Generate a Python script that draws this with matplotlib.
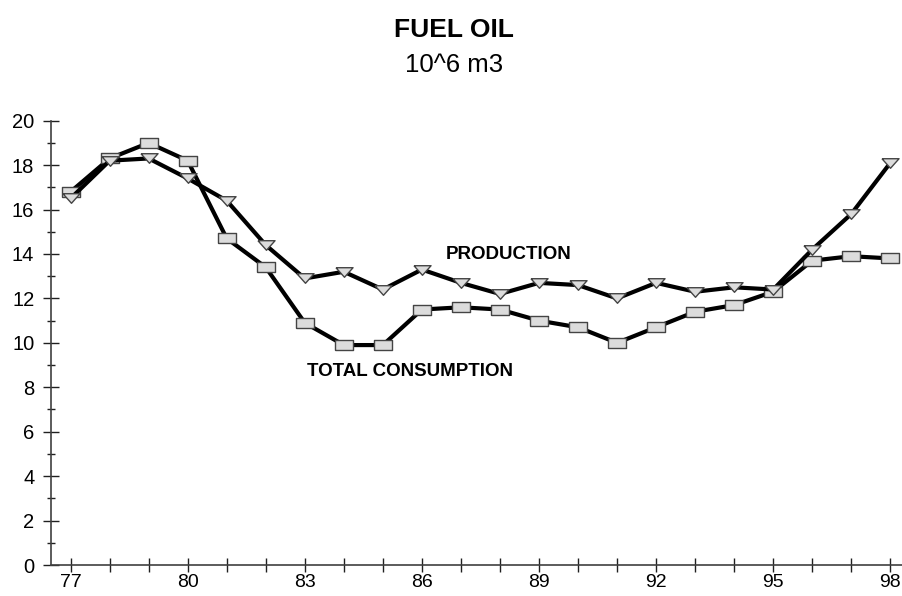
import matplotlib
matplotlib.use("Agg")
import matplotlib.pyplot as plt
from matplotlib.ticker import MultipleLocator

plt.rcParams["font.family"] = ["Liberation Sans", "DejaVu Sans"]

# years 1977..1998, values in 10^6 m3
years = list(range(77, 99))
consumption = [16.8, 18.3, 19.0, 18.2, 14.7, 13.4, 10.9, 9.9, 9.9, 11.5, 11.6,
               11.5, 11.0, 10.7, 10.0, 10.7, 11.4, 11.7, 12.3, 13.7, 13.9, 13.8]
production = [16.5, 18.2, 18.3, 17.4, 16.4, 14.4, 12.9, 13.2, 12.4, 13.3, 12.7,
              12.2, 12.7, 12.6, 12.0, 12.7, 12.3, 12.5, 12.4, 14.2, 15.8, 18.1]
xtick_years = [77, 80, 83, 86, 89, 92, 95, 98]

# flat marker shapes like the original
rect = [(-1, -0.55), (1, -0.55), (1, 0.55), (-1, 0.55), (-1, -0.55)]
tri = [(-1, 0.56), (1, 0.56), (0, -0.56), (-1, 0.56)]

fig = plt.figure(figsize=(9.02, 5.96), dpi=100)
ax = fig.add_axes([0.0562, 0.0520, 0.9438, 0.7455])

ax.plot(years, consumption, color="black", lw=3, marker=rect, ms=12.3,
        mfc="#dcdcdc", mec="#444444", mew=1.0, zorder=3)
ax.plot(years, production, color="black", lw=3, marker=tri, ms=12.3,
        mfc="#dcdcdc", mec="#444444", mew=1.0, zorder=4)

ax.text(86.6, 13.96, "PRODUCTION", fontsize=13.5, fontweight="bold",
        ha="left", va="center")
ax.text(83.05, 8.70, "TOTAL CONSUMPTION", fontsize=13.5, fontweight="bold",
        ha="left", va="center")

ax.set_xlim(76.49, 98.3)
ax.set_ylim(0, 20)
ax.set_xticks(years)
ax.set_xticklabels([str(y) if y in xtick_years else "" for y in years])
ax.yaxis.set_major_locator(MultipleLocator(2))
ax.yaxis.set_minor_locator(MultipleLocator(1))

for side in ("top", "right"):
    ax.spines[side].set_visible(False)
for side in ("left", "bottom"):
    ax.spines[side].set_color("#404040")
    ax.spines[side].set_linewidth(1.2)

ax.tick_params(axis="x", which="major", direction="inout", length=9.6,
               width=1.0, color="#202020", labelsize=14, pad=1.5)
ax.tick_params(axis="y", which="major", direction="inout", length=11.5,
               width=1.0, color="#202020", labelsize=14.5, pad=6)
ax.tick_params(axis="y", which="minor", direction="inout", length=5.5,
               width=1.0, color="#202020")

fig.text(0.503, 0.9384, "FUEL OIL", fontsize=19, fontweight="bold",
         ha="center", va="baseline")
fig.text(0.503, 0.8797, "10^6 m3", fontsize=18.5, ha="center", va="baseline")

fig.savefig("out.png", dpi=100)
